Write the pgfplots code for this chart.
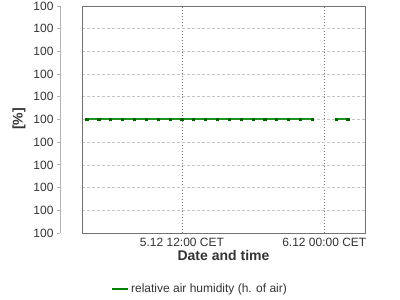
\documentclass[border=0pt]{standalone}
\usepackage{pgfplots}
\pgfplotsset{compat=1.18}
\usepackage{fontspec}
\setmainfont{Liberation Sans}
\definecolor{lineGreen}{RGB}{30,145,30}
\definecolor{markGreen}{RGB}{0,100,0}
\definecolor{legGreen}{RGB}{0,128,0}
\definecolor{txt}{RGB}{51,51,51}
\begin{document}
\begin{tikzpicture}[x=1pt,y=1pt]
\useasboundingbox (0,0) rectangle (400,300);
\begin{axis}[
  at={(82pt,67pt)}, anchor=south west, scale only axis,
  width=283pt, height=227pt,
  xmin=3.57, xmax=27.43, ymin=99.5, ymax=100.5,
  xtick={12,24}, xticklabels={5.12 12:00 CET, 6.12 00:00 CET},
  ytick={99.5,99.6,99.7,99.8,99.9,100,100.1,100.2,100.3,100.4,100.5},
  yticklabels={},
  major tick length=0pt,
  axis line style={draw=black!55, line width=0.9pt},
  xmajorgrids, ymajorgrids,
  x grid style={black!55, dash pattern=on 1pt off 2pt, line width=0.8pt},
  y grid style={black!22, dash pattern=on 3pt off 2pt, line width=0.6pt},
  xticklabel style={font=\fontsize{12}{14}\selectfont, text=txt, anchor=center, yshift=-9pt},
  xlabel={Date and time},
  every axis x label/.style={at={(axis description cs:0.5,0)}, anchor=center, yshift=-22pt, font=\bfseries\fontsize{14}{16}\selectfont, text=txt},
  unbounded coords=jump,
  legend style={at={(0.417,-0.2467)}, anchor=center, draw=none, fill=none, font=\fontsize{12}{14}\selectfont, text=txt},
  legend image code/.code={\draw[legGreen, line width=2pt] (0pt,0pt) -- (16pt,0pt);},
]
\addplot[lineGreen, line width=2pt, mark=square*, mark size=1.1pt, mark options={markGreen, line width=0pt}]
coordinates {
(4,100) (5,100) (6,100) (7,100) (8,100) (9,100) (10,100) (11,100) (12,100) (13,100)
(14,100) (15,100) (16,100) (17,100) (18,100) (19,100) (20,100) (21,100) (22,100) (23,100)
(24,nan)
(25,100) (26,100)
};
\addlegendentry{relative air humidity (h. of air)}
\end{axis}
\begin{axis}[
  at={(60pt,67pt)}, anchor=south west, scale only axis,
  width=1pt, height=227pt,
  xmin=0, xmax=1, ymin=99.5, ymax=100.5,
  axis x line=none, axis y line=left,
  y axis line style={draw=black!30, line width=0.8pt, -},
  ytick={99.5,99.6,99.7,99.8,99.9,100,100.1,100.2,100.3,100.4,100.5},
  yticklabels={100,100,100,100,100,100,100,100,100,100,100},
  tick align=outside, major tick length=3pt,
  ytick style={draw=black!30, line width=0.8pt},
  yticklabel style={font=\fontsize{12}{14}\selectfont, text=txt},
]
\end{axis}
\node[rotate=90, font=\bfseries\fontsize{14}{16}\selectfont, text=txt] at (19,181) {[\%]};
\end{tikzpicture}
\end{document}
